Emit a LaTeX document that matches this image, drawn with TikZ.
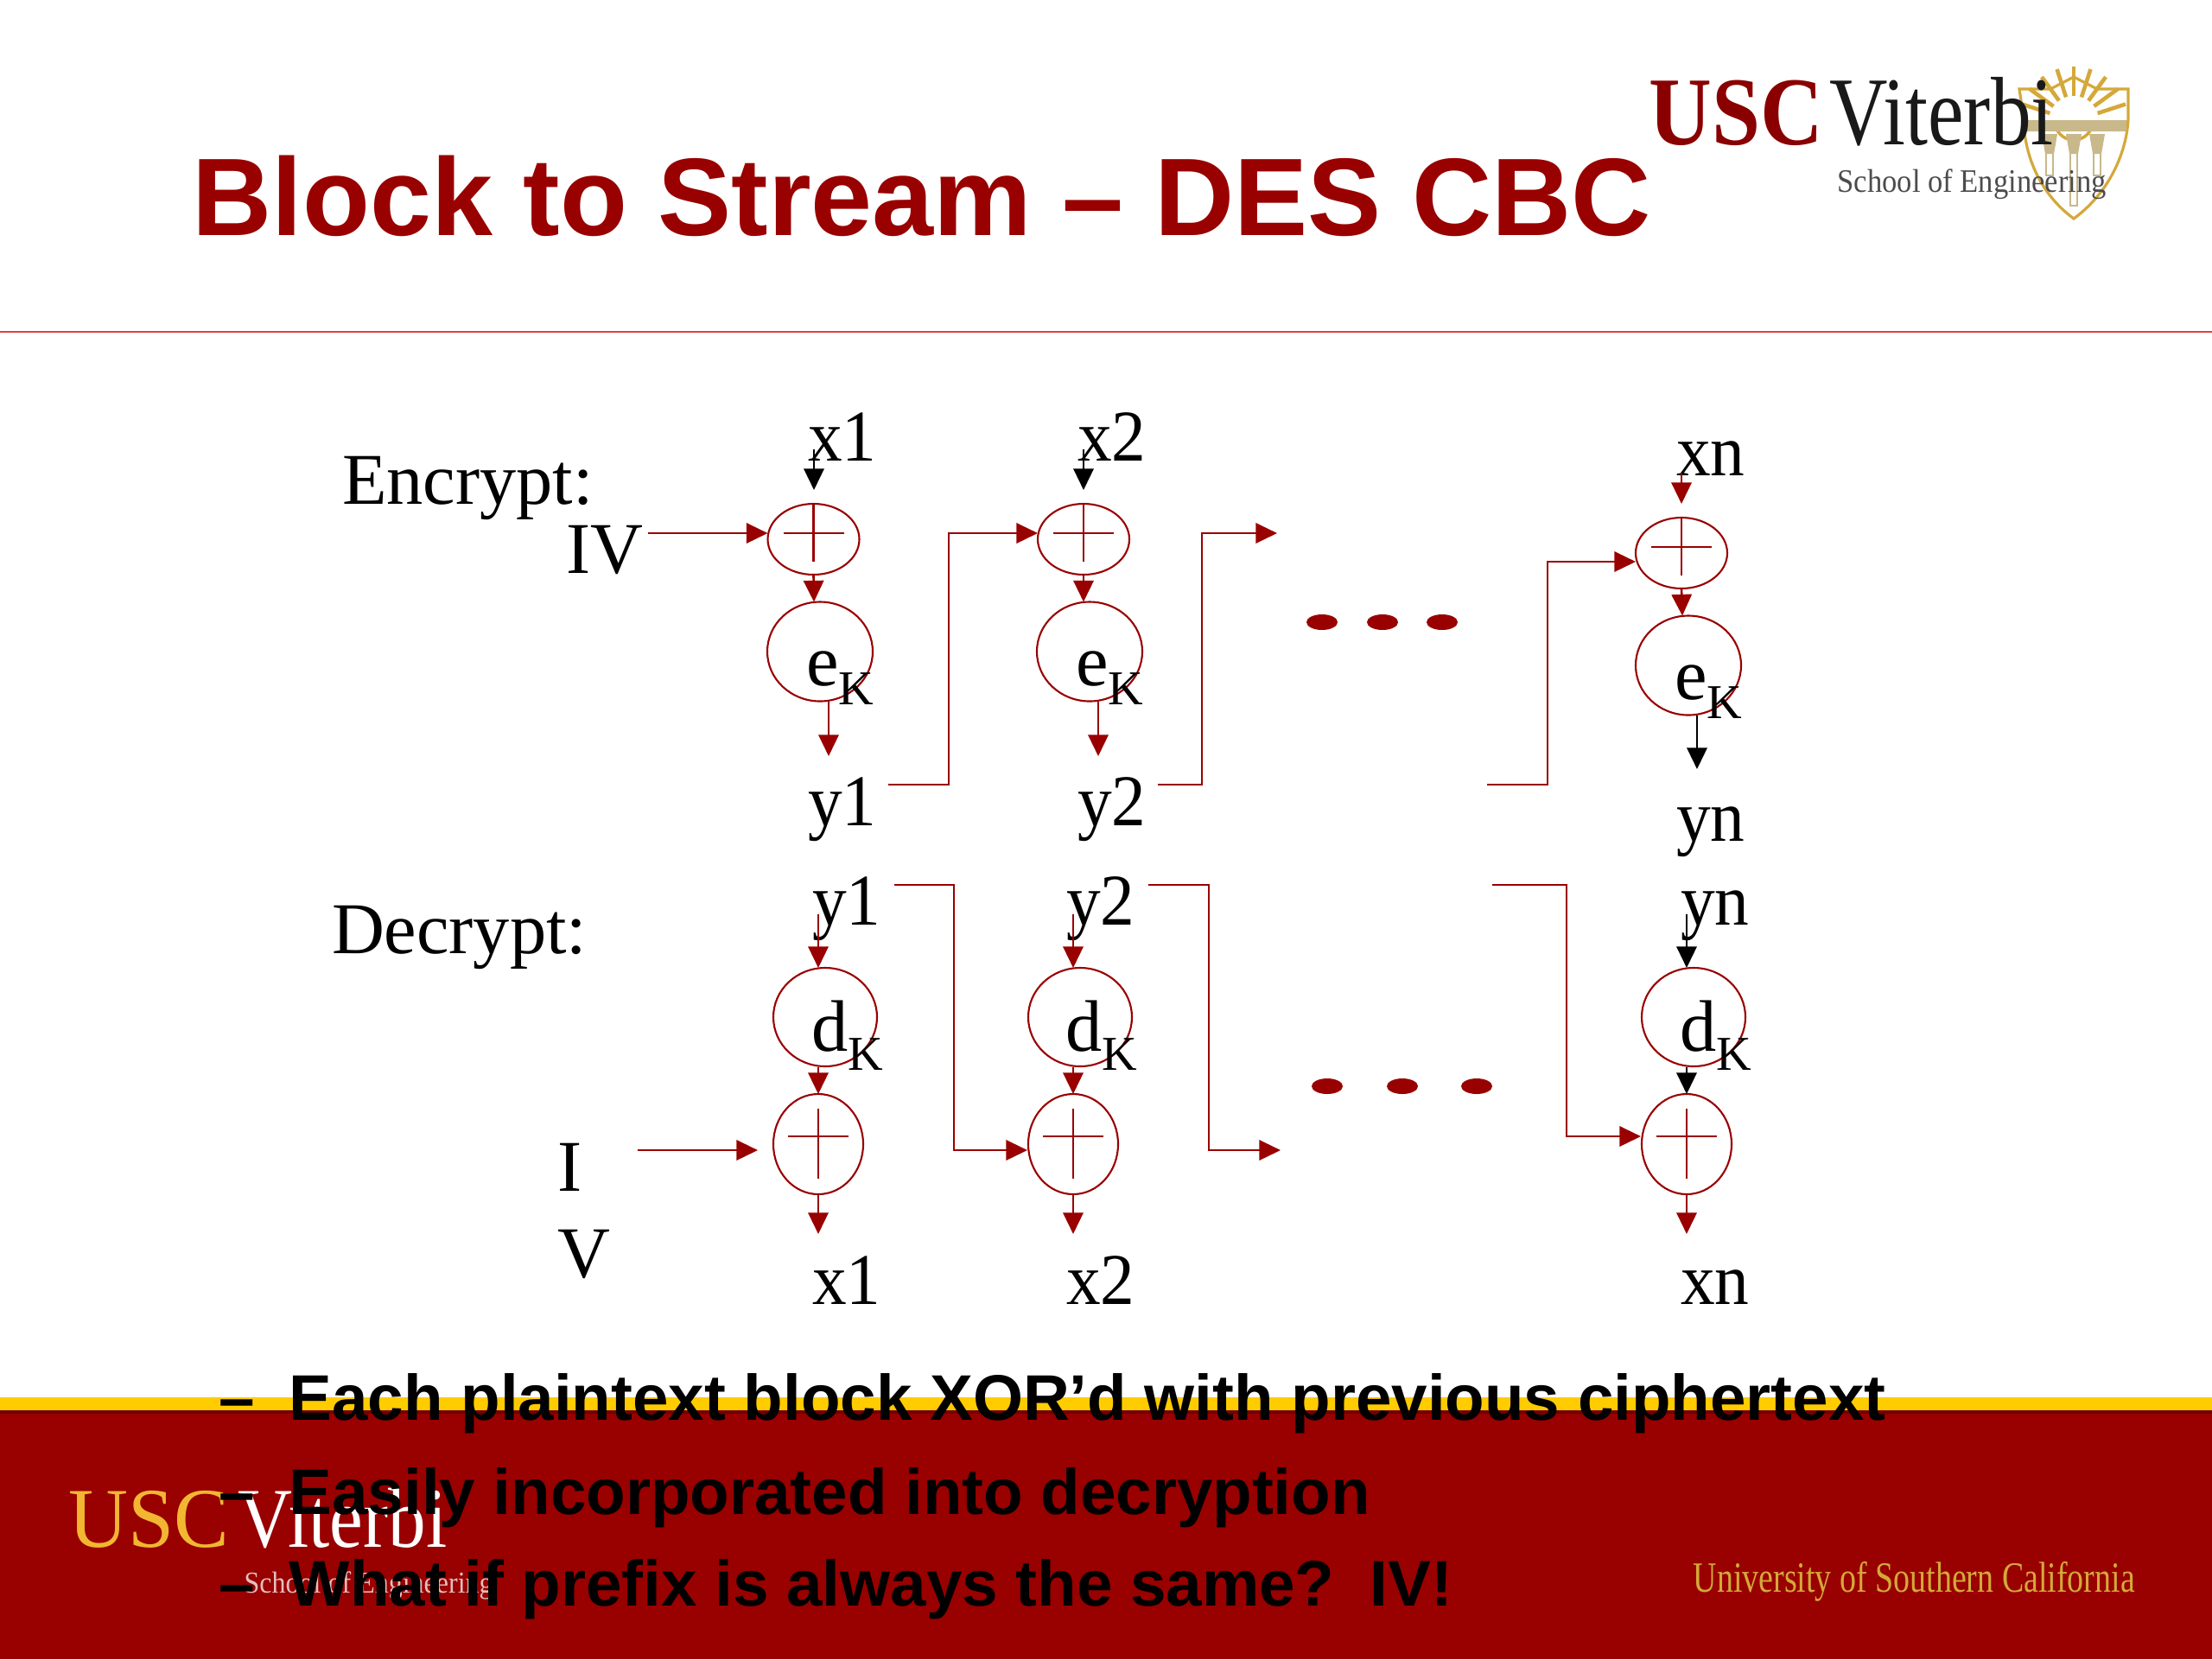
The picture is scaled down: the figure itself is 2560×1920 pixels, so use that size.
\documentclass[tikz,border=0pt]{standalone}
\usepackage{fontspec}
\setmainfont{Liberation Serif}
\newfontfamily\arialf{Liberation Sans}
\usetikzlibrary{arrows.meta}
\definecolor{usc}{HTML}{990000}
\definecolor{gold}{HTML}{FFCC00}
\definecolor{logogold}{HTML}{F2B632}
\definecolor{shieldc}{HTML}{C8B88A}
\definecolor{shieldg}{HTML}{D4A83A}
\definecolor{rulec}{HTML}{E04040}
\newcommand{\ptf}[1]{\fontsize{#1pt}{#1pt}\selectfont}
\newcommand{\bodyf}{\fontsize{24pt}{28pt}\selectfont}
\newcommand{\subf}{\fontsize{16pt}{18pt}\selectfont}
\newcommand{\subK}[1]{#1\raisebox{-6.3pt}{\subf K}}
\newcommand{\nar}[1]{\scalebox{.94}[1]{#1}}
\tikzset{
  lbl/.style={anchor=base west,inner sep=0pt,outer sep=0pt,font=\bodyf,text=black},
  redline/.style={draw=usc,line width=0.75pt},
  redarrow/.style={redline,-{Triangle[length=7pt,width=6.6pt]}},
  blackarrow/.style={draw=black,line width=0.75pt,-{Triangle[length=7pt,width=6.6pt]}},
  crossline/.style={draw=usc,line width=0.6pt},
  dotmark/.style={fill=usc,draw=none},
  bullet/.style={anchor=base west,inner sep=0pt,font={\arialf\bfseries\fontsize{21.2pt}{24pt}\selectfont},text=black},
  logotxt/.style={anchor=base west,inner sep=0pt},
}
\begin{document}
\begin{tikzpicture}[x=0.01cm,y=-0.01cm]
\useasboundingbox (0,0) rectangle (2560,1920);
\fill[white] (0,0) rectangle (2560,1920);
% footer
\fill[usc] (0,1632) rectangle (2560,1920);
\fill[gold] (0,1617) rectangle (2560,1632);
\fill[usc!75!black] (0,1632) rectangle (2560,1636);
% rule
\draw[color=rulec,line width=0.6pt] (0,384) -- (2560,384);
% title
\node[anchor=base west,inner sep=0pt,text=usc,font={\arialf\bfseries\fontsize{36.3pt}{40pt}\selectfont}] (title) at (222,272) {Block to Stream – DES CBC};
% shield
\foreach \a in {18,36,54,72,90,108,126,144,162}
  \draw[shieldg,line width=1.3pt] (2400,140) ++(\a:-29) -- ++(\a:-34);
\draw[shieldg,line width=1pt] (2378,140) arc[start angle=180,end angle=0,radius=22];
\fill[shieldc] (2342,139) -- (2462,139) -- (2460,152) -- (2344,152) -- cycle;
\draw[shieldg,line width=0.9pt] (2400,89) -- (2427,103) -- (2463,103) -- (2463,137) .. controls (2462,170) and (2445,220) .. (2400,253) .. controls (2355,220) and (2342,170) .. (2342,137) -- (2337,103) -- (2373,103) -- cycle;
\foreach \tx/\ty in {2372/203,2400/238,2427/203}{
  \fill[shieldc] (\tx-9,155) -- (\tx+9,155) -- (\tx+5,178) -- (\tx-5,178) -- cycle;
  \draw[shieldc,line width=.8pt] (\tx-4,178) -- (\tx-4,\ty) -- (\tx+4,\ty) -- (\tx+4,178);
}
% top logo
\node[logotxt,text=usc!90!black,font={\bfseries\ptf{32}}] (lu) at (1908,167) {\scalebox{.895}[1]{USC}};
\node[logotxt,text=black!90,font=\ptf{32}] (lv) at (2117,167) {\scalebox{.83}[1]{Viterbi}};
\node[logotxt,text=black!70,font=\ptf{10.8}] (ls) at (2126,222) {\scalebox{.91}[1]{School of Engineering}};
% footer logo
\node[logotxt,text=logogold,font=\ptf{28}] (fu) at (79,1790) {\scalebox{.97}[1]{USC}};
\node[logotxt,text=white,font=\ptf{28}] (fv) at (275,1790) {\scalebox{.885}[1]{Viterbi}};
\node[logotxt,text=white!75!usc,font=\ptf{10}] (fs) at (282,1843) {\scalebox{.91}[1]{School of Engineering}};
\node[logotxt,text=shieldg,font=\ptf{14.2}] (fc) at (1959,1842) {\scalebox{.76}[1]{University of Southern California}};
% bullets
\node[bullet] (d1) at (253,1643) {–};
\node[bullet] (b1) at (334,1643) {Each plaintext block XOR’d with previous ciphertext};
\node[bullet] (d2) at (253,1752) {–};
\node[bullet] (b2) at (334,1752) {Easily incorporated into decryption};
\node[bullet] (d3) at (253,1858) {–};
\node[bullet] (b3) at (334,1858) {What if prefix is always the same?\ \ IV!};
% Encrypt labels
\node[lbl] (enc) at (396,583) {Encrypt:};
\node[lbl] (eiv) at (655,663) {IV};
\node[lbl] (ex1) at (935,533) {\nar{x1}};
\node[lbl] (ex2) at (1247,533) {\nar{x2}};
\node[lbl] (exn) at (1940,550) {\nar{xn}};
\node[lbl] (ey1) at (935,955) {\nar{y1}};
\node[lbl] (ey2) at (1247,955) {\nar{y2}};
\node[lbl] (eyn) at (1940,973) {\nar{yn}};
% Encrypt circles
\foreach \n/\cx/\cy in {1/941.5/624,2/1254/624,3/1946/640}{
  \draw[usc,line width=0.6pt] (\cx,\cy) ellipse[x radius=53,y radius=41];
  \draw[crossline] (\cx-35,\cy-7) -- (\cx+35,\cy-7);
  \draw[crossline] (\cx,\cy-41) -- (\cx,\cy+26);
  \coordinate (ex\n n) at (\cx,\cy-41);
  \coordinate (ex\n s) at (\cx,\cy+41);
  \coordinate (ex\n w) at (\cx-53,\cy-7);
}
\foreach \n/\cx/\cy in {1/949/754,2/1261/754,3/1954/770}{
  \draw[usc,line width=0.6pt] (\cx,\cy) ellipse[x radius=61,y radius=57.5];
  \coordinate (ek\n n) at (\cx-7,\cy-57.5);
}
\node[lbl] (ek1) at (933,793) {\subK{e}};
\node[lbl] (ek2) at (1245,793) {\subK{e}};
\node[lbl] (ek3) at (1938,809) {\subK{e}};
% Encrypt arrows
\coordinate (a1) at (942,520); \coordinate (a1e) at (942,567);
\draw[blackarrow] (a1) -- (a1e);
\coordinate (a2) at (1254,520); \coordinate (a2e) at (1254,567);
\draw[blackarrow] (a2) -- (a2e);
\coordinate (a3) at (1946,548); \coordinate (a3e) at (1946,583);
\draw[redarrow] (a3) -- (a3e);
\draw[redarrow] (ex1s) -- (ek1n);
\draw[redarrow] (ex2s) -- (ek2n);
\draw[redarrow] (ex3s) -- (ek3n);
\coordinate (o1) at (959,812); \coordinate (o1e) at (959,875);
\draw[redarrow] (o1) -- (o1e);
\coordinate (o2) at (1271,812); \coordinate (o2e) at (1271,875);
\draw[redarrow] (o2) -- (o2e);
\coordinate (o3) at (1964,828); \coordinate (o3e) at (1964,890);
\draw[blackarrow] (o3) -- (o3e);
\coordinate (ivs) at (750,617);
\draw[redarrow] (ivs) -- (ex1w);
\coordinate (f1) at (1028,908); \coordinate (f1u) at (1098,908); \coordinate (f1v) at (1098,617);
\draw[redarrow] (f1) -- (f1u) -- (f1v) -- (ex2w);
\coordinate (f2) at (1340,908); \coordinate (f2u) at (1391,908); \coordinate (f2v) at (1391,617); \coordinate (f2e) at (1478,617);
\draw[redarrow] (f2) -- (f2u) -- (f2v) -- (f2e);
\coordinate (f3) at (1721,908); \coordinate (f3u) at (1791,908); \coordinate (f3v) at (1791,650);
\coordinate (f3e) at (1893,650);
\draw[redarrow] (f3) -- (f3u) -- (f3v) -- (f3e);
\foreach \x in {1530,1600,1669} \fill[dotmark] (\x,720) ellipse[x radius=18,y radius=9];
% Decrypt labels
\node[lbl] (dec) at (384,1103) {Decrypt:};
\node[lbl] (dy1) at (940,1070) {\nar{y1}};
\node[lbl] (dy2) at (1234,1070) {\nar{y2}};
\node[lbl] (dyn) at (1945,1070) {\nar{yn}};
\node[lbl] (dx1) at (940,1509) {\nar{x1}};
\node[lbl] (dx2) at (1234,1509) {\nar{x2}};
\node[lbl] (dxn) at (1945,1509) {\nar{xn}};
\node[lbl] (di) at (645,1378) {I};
\node[lbl] (dv) at (645,1478) {V};
% Decrypt circles
\foreach \n/\cx in {1/955,2/1250,3/1960}{
  \draw[usc,line width=0.6pt] (\cx,1177) ellipse[x radius=60,y radius=57];
}
\node[lbl] (dk1) at (939,1216) {\subK{d}};
\node[lbl] (dk2) at (1233,1216) {\subK{d}};
\node[lbl] (dk3) at (1944,1216) {\subK{d}};
\foreach \n/\cx in {1/947,2/1242,3/1952}{
  \draw[usc,line width=0.6pt] (\cx,1324) ellipse[x radius=52,y radius=58];
  \draw[crossline] (\cx-35,1315) -- (\cx+35,1315);
  \draw[crossline] (\cx,1283) -- (\cx,1364);
  \coordinate (dt\n) at (\cx,1058);
  \coordinate (dte\n) at (\cx,1120);
  \coordinate (dm\n) at (\cx,1235);
  \coordinate (dme\n) at (\cx,1266);
  \coordinate (db\n) at (\cx,1382);
  \coordinate (dbe\n) at (\cx,1428);
}
\draw[redarrow] (dt1) -- (dte1);
\draw[redarrow] (dt2) -- (dte2);
\draw[blackarrow] (dt3) -- (dte3);
\draw[redarrow] (dm1) -- (dme1);
\draw[redarrow] (dm2) -- (dme2);
\draw[blackarrow] (dm3) -- (dme3);
\draw[redarrow] (db1) -- (dbe1);
\draw[redarrow] (db2) -- (dbe2);
\draw[redarrow] (db3) -- (dbe3);
\coordinate (iv2) at (738,1331); \coordinate (iv2e) at (877,1331);
\draw[redarrow] (iv2) -- (iv2e);
\coordinate (g1) at (1035,1024); \coordinate (g1u) at (1104,1024); \coordinate (g1v) at (1104,1331); \coordinate (g1e) at (1189,1331);
\draw[redarrow] (g1) -- (g1u) -- (g1v) -- (g1e);
\coordinate (g2) at (1329,1024); \coordinate (g2u) at (1399,1024); \coordinate (g2v) at (1399,1331); \coordinate (g2e) at (1482,1331);
\draw[redarrow] (g2) -- (g2u) -- (g2v) -- (g2e);
\coordinate (g3) at (1727,1024); \coordinate (g3u) at (1813,1024); \coordinate (g3v) at (1813,1315); \coordinate (g3e) at (1899,1315);
\draw[redarrow] (g3) -- (g3u) -- (g3v) -- (g3e);
\foreach \x in {1536,1623,1709} \fill[dotmark] (\x,1257) ellipse[x radius=18,y radius=9];
\end{tikzpicture}
\end{document}
